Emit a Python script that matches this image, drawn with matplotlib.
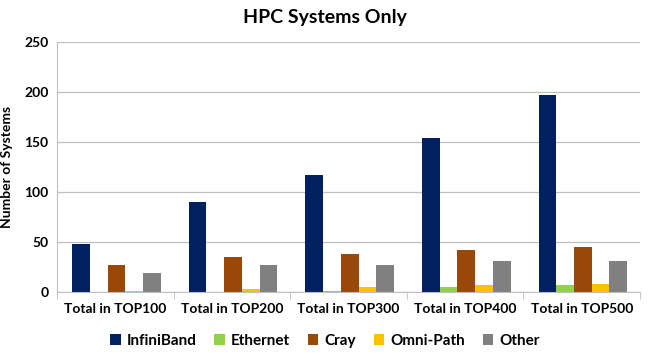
import matplotlib
matplotlib.use("Agg")
import matplotlib.pyplot as plt
import numpy as np

plt.rcParams['font.family'] = ['Lato', 'DejaVu Sans']

categories = ["Total in TOP100", "Total in TOP200", "Total in TOP300", "Total in TOP400", "Total in TOP500"]
series_names = ["InfiniBand", "Ethernet", "Cray", "Omni-Path", "Other"]
infiniband = [48, 90, 117, 154, 197]
ethernet = [0, 0, 1, 5, 7]
cray = [27, 35, 38, 42, 45]
omnipath = [1, 3, 5, 7, 8]
other = [19, 27, 27, 31, 31]
colors = ["#002060", "#92D050", "#984807", "#FFC000", "#808080"]
yticks = [0, 50, 100, 150, 200, 250]

data = [infiniband, ethernet, cray, omnipath, other]

fig = plt.figure(figsize=(6.5, 3.55), dpi=100)
ax = fig.add_axes([57/650, 1 - 292/355, (640-57)/650, 250/355])

x = np.arange(len(categories))
w = 0.152
offsets = (np.arange(5) - 2) * w + 0.01
for vals, name, c, off in zip(data, series_names, colors, offsets):
    ax.bar(x + off, vals, width=w, color=c, label=name, edgecolor='none')

ax.set_xlim(-0.5, len(categories) - 0.5)
ax.set_ylim(0, 250)
ax.set_yticks(yticks)
ax.set_yticklabels([str(t) for t in yticks], fontsize=10, fontweight='bold')
ax.grid(axis='y', color='#BFBFBF', linewidth=0.9)
ax.set_axisbelow(True)
for s in ['top', 'right']:
    ax.spines[s].set_visible(False)
ax.spines['left'].set_color('#BFBFBF')
ax.spines['bottom'].set_color('#BFBFBF')
ax.tick_params(axis='y', length=0, pad=6)
ax.set_xticks(x)
ax.set_xticklabels(categories, fontsize=10, fontweight='bold')
ax.tick_params(axis='x', length=0, pad=8)
ax.set_xticks(np.arange(len(categories) + 1) - 0.5, minor=True)
ax.tick_params(axis='x', which='minor', length=5, color='#BFBFBF')
ax.set_ylabel("Number of Systems", fontsize=10, fontweight='bold', labelpad=8)

fig.suptitle("HPC Systems Only", fontsize=14, fontweight='bold', y=0.975)

leg = fig.legend(loc='lower center', bbox_to_anchor=(0.5, -0.018), ncol=5, frameon=False,
                 prop={'size': 11, 'weight': 'bold'}, handlelength=0.7, handleheight=0.7,
                 handletextpad=0.4, columnspacing=1.15)

fig.savefig("out.png", dpi=100)
